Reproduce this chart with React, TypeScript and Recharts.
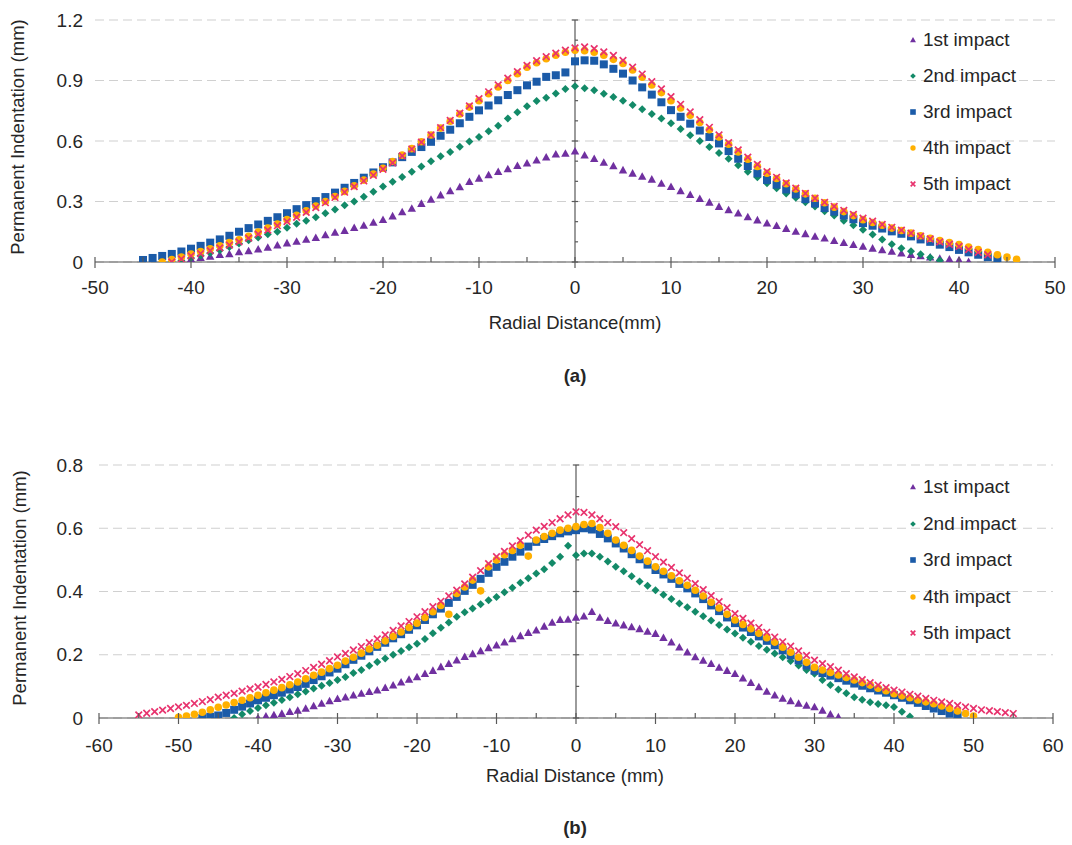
import React from 'react';
import { ScatterChart, Scatter, XAxis, YAxis, CartesianGrid, ReferenceLine } from 'recharts';

const FONT = '"Liberation Sans", Arial, sans-serif';
const TEXT = '#262626';
const AXIS = '#595959';
const GRID = '#D0D0D0';

const seriesNames = ['1st impact', '2nd impact', '3rd impact', '4th impact', '5th impact'];
const seriesColors = ['#7030A0', '#138A68', '#1B5BA8', '#FFB000', '#E8336E'];
const seriesShapes = ['triangle', 'diamond', 'square', 'circle', 'x'];

// ---------- Chart (a) ----------
const xTicksA = [-50, -40, -30, -20, -10, 0, 10, 20, 30, 40, 50];
const xMinorA = [-45, -35, -25, -15, -5, 5, 15, 25, 35, 45];
const yTicksA = [0, 0.3, 0.6, 0.9, 1.2];
const yMinorA = [0.1, 0.2, 0.4, 0.5, 0.7, 0.8, 1.0, 1.1];

const xA = [
  -45, -44, -43, -42, -41, -40, -39, -38, -37, -36,
  -35, -34, -33, -32, -31, -30, -29, -28, -27, -26,
  -25, -24, -23, -22, -21, -20, -19, -18, -17, -16,
  -15, -14, -13, -12, -11, -10, -9, -8, -7, -6,
  -5, -4, -3, -2, -1, 0, 1, 2, 3, 4,
  5, 6, 7, 8, 9, 10, 11, 12, 13, 14,
  15, 16, 17, 18, 19, 20, 21, 22, 23, 24,
  25, 26, 27, 28, 29, 30, 31, 32, 33, 34,
  35, 36, 37, 38, 39, 40, 41, 42, 43, 44,
  45, 46,
];

const impact1A = [
  null, null, null, null, 0.000, 0.015, 0.022, 0.028, 0.036, 0.040,
  0.050, 0.055, 0.064, 0.072, 0.083, 0.094, 0.102, 0.112, 0.121, 0.134,
  0.147, 0.156, 0.170, 0.181, 0.196, 0.210, 0.228, 0.248, 0.266, 0.290,
  0.310, 0.332, 0.352, 0.372, 0.398, 0.415, 0.432, 0.448, 0.462, 0.478,
  0.490, 0.505, 0.520, 0.535, 0.538, 0.550, 0.530, 0.512, 0.494, 0.476,
  0.456, 0.440, 0.424, 0.410, 0.390, 0.374, 0.352, 0.334, 0.314, 0.296,
  0.275, 0.258, 0.242, 0.224, 0.208, 0.193, 0.180, 0.166, 0.152, 0.140,
  0.127, 0.118, 0.106, 0.096, 0.086, 0.077, 0.068, 0.060, 0.052, 0.044,
  0.036, 0.030, 0.024, 0.018, 0.014, 0.010, 0.002, null, null, null,
  null, null,
];
const impact2A = [
  null, null, null, 0.000, 0.008, 0.020, 0.032, 0.045, 0.058, 0.074,
  0.092, 0.108, 0.122, 0.138, 0.150, 0.170, 0.190, 0.205, 0.222, 0.242,
  0.260, 0.282, 0.300, 0.324, 0.348, 0.374, 0.398, 0.422, 0.448, 0.474,
  0.500, 0.524, 0.546, 0.572, 0.598, 0.620, 0.648, 0.676, 0.712, 0.742,
  0.772, 0.798, 0.814, 0.836, 0.858, 0.872, 0.862, 0.852, 0.834, 0.818,
  0.800, 0.778, 0.758, 0.734, 0.712, 0.688, 0.660, 0.628, 0.600, 0.570,
  0.540, 0.512, 0.480, 0.448, 0.420, 0.390, 0.366, 0.340, 0.318, 0.296,
  0.275, 0.252, 0.230, 0.204, 0.182, 0.160, 0.136, 0.112, 0.088, 0.068,
  0.053, 0.038, 0.022, 0.008, null, null, null, null, null, null,
  null, null,
];
const impact3A = [
  0.010, 0.020, 0.030, 0.040, 0.052, 0.066, 0.080, 0.096, 0.112, 0.130,
  0.150, 0.168, 0.186, 0.204, 0.222, 0.242, 0.262, 0.282, 0.302, 0.322,
  0.344, 0.368, 0.392, 0.418, 0.444, 0.470, 0.494, 0.520, 0.546, 0.570,
  0.596, 0.626, 0.656, 0.688, 0.720, 0.752, 0.776, 0.802, 0.828, 0.852,
  0.876, 0.894, 0.918, 0.926, 0.940, 0.995, 1.000, 0.998, 0.980, 0.958,
  0.934, 0.900, 0.866, 0.830, 0.792, 0.753, 0.720, 0.686, 0.652, 0.620,
  0.588, 0.550, 0.512, 0.476, 0.440, 0.407, 0.384, 0.360, 0.336, 0.312,
  0.290, 0.268, 0.250, 0.230, 0.212, 0.193, 0.180, 0.166, 0.152, 0.140,
  0.127, 0.112, 0.100, 0.086, 0.074, 0.060, 0.048, 0.036, 0.024, 0.012,
  null, null,
];
const impact4A = [
  null, null, 0.000, 0.012, 0.025, 0.040, 0.052, 0.066, 0.080, 0.096,
  0.110, 0.128, 0.148, 0.168, 0.188, 0.210, 0.232, 0.254, 0.278, 0.300,
  0.325, 0.350, 0.378, 0.406, 0.436, 0.465, 0.498, 0.530, 0.562, 0.596,
  0.630, 0.664, 0.698, 0.734, 0.768, 0.800, 0.834, 0.868, 0.900, 0.934,
  0.966, 0.988, 1.008, 1.025, 1.040, 1.050, 1.048, 1.040, 1.025, 1.005,
  0.984, 0.952, 0.916, 0.878, 0.840, 0.800, 0.764, 0.728, 0.692, 0.656,
  0.620, 0.584, 0.546, 0.510, 0.474, 0.440, 0.414, 0.388, 0.362, 0.338,
  0.316, 0.294, 0.272, 0.250, 0.230, 0.210, 0.196, 0.182, 0.168, 0.156,
  0.143, 0.130, 0.118, 0.106, 0.096, 0.086, 0.074, 0.062, 0.048, 0.036,
  0.024, 0.014,
];
const impact5A = [
  null, null, null, 0.000, 0.015, 0.030, 0.042, 0.056, 0.070, 0.084,
  0.100, 0.118, 0.138, 0.158, 0.180, 0.200, 0.222, 0.246, 0.270, 0.294,
  0.320, 0.346, 0.374, 0.402, 0.430, 0.460, 0.492, 0.526, 0.560, 0.594,
  0.630, 0.666, 0.702, 0.738, 0.774, 0.810, 0.844, 0.878, 0.912, 0.944,
  0.975, 0.998, 1.018, 1.035, 1.050, 1.062, 1.066, 1.058, 1.042, 1.024,
  1.000, 0.966, 0.932, 0.894, 0.858, 0.820, 0.782, 0.744, 0.706, 0.668,
  0.630, 0.592, 0.556, 0.520, 0.484, 0.448, 0.420, 0.392, 0.366, 0.340,
  0.316, 0.296, 0.276, 0.256, 0.236, 0.217, 0.202, 0.186, 0.172, 0.158,
  0.143, 0.128, 0.114, 0.100, 0.088, 0.077, 0.062, 0.048, 0.036, null,
  null, null,
];

// ---------- Chart (b) ----------
const xTicksB = [-60, -50, -40, -30, -20, -10, 0, 10, 20, 30, 40, 50, 60];
const xMinorB = [-55, -45, -35, -25, -15, -5, 5, 15, 25, 35, 45, 55];
const yTicksB = [0, 0.2, 0.4, 0.6, 0.8];
const yMinorB = [0.1, 0.3, 0.5, 0.7];

const xB = [
  -55, -54, -53, -52, -51, -50, -49, -48, -47, -46,
  -45, -44, -43, -42, -41, -40, -39, -38, -37, -36,
  -35, -34, -33, -32, -31, -30, -29, -28, -27, -26,
  -25, -24, -23, -22, -21, -20, -19, -18, -17, -16,
  -15, -14, -13, -12, -11, -10, -9, -8, -7, -6,
  -5, -4, -3, -2, -1, 0, 1, 2, 3, 4,
  5, 6, 7, 8, 9, 10, 11, 12, 13, 14,
  15, 16, 17, 18, 19, 20, 21, 22, 23, 24,
  25, 26, 27, 28, 29, 30, 31, 32, 33, 34,
  35, 36, 37, 38, 39, 40, 41, 42, 43, 44,
  45, 46, 47, 48, 49, 50, 51, 52, 53, 54,
  55,
];

const impact1B = [
  null, null, null, null, null, null, null, null, null, null,
  null, null, null, null, null, 0.000, 0.006, 0.010, 0.014, 0.020,
  0.024, 0.030, 0.038, 0.046, 0.054, 0.061, 0.066, 0.072, 0.078, 0.083,
  0.088, 0.096, 0.104, 0.113, 0.122, 0.130, 0.140, 0.150, 0.162, 0.172,
  0.183, 0.194, 0.203, 0.212, 0.222, 0.230, 0.240, 0.250, 0.260, 0.270,
  0.278, 0.290, 0.302, 0.311, 0.312, 0.318, 0.322, 0.336, 0.318, 0.308,
  0.300, 0.294, 0.288, 0.282, 0.274, 0.267, 0.254, 0.240, 0.224, 0.208,
  0.193, 0.182, 0.172, 0.160, 0.150, 0.140, 0.126, 0.112, 0.098, 0.084,
  0.072, 0.062, 0.054, 0.046, 0.040, 0.035, 0.024, 0.012, 0.003, null,
  null, null, null, null, null, null, null, null, null, null,
  null, null, null, null, null, null, null, null, null, null,
  null,
];
const impact2B = [
  null, null, null, null, null, null, null, null, null, null,
  null, null, 0.000, 0.012, 0.022, 0.032, 0.040, 0.048, 0.057, 0.066,
  0.075, 0.084, 0.093, 0.102, 0.111, 0.120, 0.130, 0.142, 0.152, 0.165,
  0.177, 0.188, 0.200, 0.212, 0.224, 0.235, 0.250, 0.268, 0.285, 0.302,
  0.320, 0.334, 0.346, 0.360, 0.372, 0.383, 0.398, 0.412, 0.428, 0.442,
  0.457, 0.470, 0.490, 0.510, 0.545, 0.515, 0.520, 0.520, 0.510, 0.495,
  0.478, 0.464, 0.448, 0.432, 0.418, 0.404, 0.390, 0.376, 0.362, 0.350,
  0.336, 0.322, 0.308, 0.294, 0.280, 0.267, 0.254, 0.241, 0.228, 0.216,
  0.204, 0.192, 0.180, 0.166, 0.152, 0.140, 0.120, 0.104, 0.090, 0.078,
  0.066, 0.058, 0.050, 0.044, 0.040, 0.035, 0.020, 0.005, null, null,
  null, null, null, null, null, null, null, null, null, null,
  null,
];
const impact3B = [
  null, null, null, null, null, null, null, null, 0.000, 0.004,
  0.008, 0.016, 0.026, 0.036, 0.046, 0.056, 0.064, 0.072, 0.080, 0.090,
  0.098, 0.108, 0.120, 0.132, 0.144, 0.156, 0.170, 0.184, 0.197, 0.211,
  0.225, 0.238, 0.252, 0.265, 0.279, 0.293, 0.310, 0.328, 0.346, 0.364,
  0.383, 0.402, 0.421, 0.440, 0.459, 0.478, 0.494, 0.510, 0.526, 0.542,
  0.557, 0.566, 0.575, 0.584, 0.590, 0.594, 0.600, 0.596, 0.582, 0.568,
  0.552, 0.536, 0.518, 0.502, 0.485, 0.468, 0.454, 0.440, 0.424, 0.410,
  0.394, 0.376, 0.356, 0.338, 0.318, 0.300, 0.286, 0.272, 0.258, 0.244,
  0.230, 0.214, 0.198, 0.182, 0.166, 0.150, 0.142, 0.134, 0.126, 0.118,
  0.109, 0.102, 0.094, 0.087, 0.080, 0.072, 0.064, 0.056, 0.048, 0.038,
  0.030, 0.022, 0.014, 0.008, null, null, null, null, null, null,
  null,
];
const impact4B = [
  null, null, null, null, null, 0.002, 0.006, 0.012, 0.018, 0.026,
  0.034, 0.041, 0.049, 0.056, 0.064, 0.072, 0.080, 0.088, 0.096, 0.105,
  0.114, 0.124, 0.135, 0.145, 0.156, 0.167, 0.180, 0.192, 0.205, 0.218,
  0.230, 0.244, 0.258, 0.272, 0.286, 0.300, 0.318, 0.336, 0.356, 0.328,
  0.394, 0.414, 0.436, 0.402, 0.478, 0.500, 0.516, 0.530, 0.546, 0.512,
  0.563, 0.574, 0.584, 0.594, 0.600, 0.605, 0.612, 0.615, 0.602, 0.584,
  0.563, 0.546, 0.530, 0.512, 0.496, 0.478, 0.464, 0.450, 0.434, 0.420,
  0.404, 0.386, 0.366, 0.348, 0.328, 0.310, 0.296, 0.282, 0.268, 0.254,
  0.240, 0.224, 0.208, 0.192, 0.176, 0.160, 0.152, 0.144, 0.136, 0.128,
  0.120, 0.112, 0.104, 0.094, 0.086, 0.077, 0.070, 0.064, 0.057, 0.051,
  0.045, 0.038, 0.030, 0.022, 0.014, 0.006, null, null, null, null,
  null,
];
const impact5B = [
  0.010, 0.015, 0.020, 0.025, 0.030, 0.035, 0.040, 0.046, 0.052, 0.058,
  0.066, 0.072, 0.078, 0.085, 0.092, 0.098, 0.106, 0.114, 0.122, 0.131,
  0.140, 0.150, 0.160, 0.170, 0.181, 0.193, 0.204, 0.215, 0.226, 0.238,
  0.250, 0.263, 0.277, 0.291, 0.305, 0.320, 0.336, 0.352, 0.369, 0.386,
  0.404, 0.424, 0.445, 0.466, 0.488, 0.510, 0.527, 0.544, 0.561, 0.578,
  0.594, 0.606, 0.618, 0.630, 0.642, 0.652, 0.650, 0.642, 0.630, 0.618,
  0.605, 0.586, 0.567, 0.548, 0.529, 0.510, 0.493, 0.476, 0.459, 0.442,
  0.425, 0.406, 0.387, 0.368, 0.349, 0.330, 0.315, 0.300, 0.286, 0.271,
  0.256, 0.241, 0.227, 0.212, 0.198, 0.183, 0.172, 0.162, 0.151, 0.140,
  0.130, 0.121, 0.112, 0.104, 0.096, 0.088, 0.082, 0.075, 0.069, 0.062,
  0.056, 0.051, 0.046, 0.040, 0.035, 0.030, 0.026, 0.023, 0.020, 0.017,
  0.014,
];

type Pt = { x: number; y: number };
function buildPoints(xs: number[], ys: (number | null)[]): Pt[] {
  const out: Pt[] = [];
  xs.forEach((x, i) => {
    const v = ys[i];
    if (v !== null && v !== undefined) out.push({ x, y: v });
  });
  return out;
}

function Marker({ kind, color, cx, cy, k = 1 }: { kind: string; color: string; cx: number; cy: number; k?: number }) {
  if (cx == null || cy == null) return null;
  switch (kind) {
    case 'triangle': {
      const r = 4.2 * k;
      return <polygon points={`${cx},${cy - r} ${cx - r},${cy + r * 0.8} ${cx + r},${cy + r * 0.8}`} fill={color} />;
    }
    case 'diamond': {
      const r = 4.0 * k;
      return <polygon points={`${cx},${cy - r} ${cx + r},${cy} ${cx},${cy + r} ${cx - r},${cy}`} fill={color} />;
    }
    case 'square': {
      const r = 4.0 * k;
      return <rect x={cx - r} y={cy - r} width={2 * r} height={2 * r} fill={color} />;
    }
    case 'circle':
      return <circle cx={cx} cy={cy} r={3.8 * k} fill={color} />;
    default: {
      const r = 3.3 * k;
      return (
        <path
          d={`M${cx - r},${cy - r}L${cx + r},${cy + r}M${cx - r},${cy + r}L${cx + r},${cy - r}`}
          stroke={color}
          strokeWidth={1.7}
          fill="none"
        />
      );
    }
  }
}

const makeXTick = (majors: number[], labelDy: number) => (props: any) => {
  const { x, y, payload } = props;
  const major = majors.includes(payload.value);
  return (
    <g>
      <line x1={x} x2={x} y1={y - 5} y2={major ? y + 6 : y} stroke={AXIS} strokeWidth={1.2} />
      {major && (
        <text x={x} y={y + labelDy} textAnchor="middle" fontSize={19} fill={TEXT} fontFamily={FONT}>
          {payload.value}
        </text>
      )}
    </g>
  );
};

type PanelProps = {
  top: number;
  height: number;
  marginTop: number;
  marginRight: number;
  yAxisWidth: number;
  yTickMargin: number;
  xAxisHeight: number;
  xDomain: [number, number];
  xTicks: number[];
  xMinor: number[];
  yDomain: [number, number];
  yTicks: number[];
  yMinor: number[];
  tickHalf: number;
  labelDy: number;
  xs: number[];
  series: (number | null)[][];
};

function Panel(p: PanelProps) {
  const allXTicks = [...p.xTicks, ...p.xMinor].sort((a, b) => a - b);
  return (
    <div style={{ position: 'absolute', left: 0, top: p.top }}>
      <ScatterChart
        width={1072}
        height={p.height}
        margin={{ top: p.marginTop, right: p.marginRight, bottom: 0, left: 0 }}
      >
        <CartesianGrid vertical={false} stroke={GRID} strokeDasharray="9 5" strokeWidth={1.2} />
        <XAxis
          type="number"
          dataKey="x"
          domain={p.xDomain}
          ticks={allXTicks}
          interval={0}
          allowDataOverflow
          tickLine={false}
          tickSize={0}
          tickMargin={0}
          height={p.xAxisHeight}
          axisLine={{ stroke: AXIS, strokeWidth: 1.2 }}
          tick={makeXTick(p.xTicks, p.labelDy)}
        />
        <YAxis
          type="number"
          dataKey="y"
          domain={p.yDomain}
          ticks={p.yTicks}
          interval={0}
          allowDataOverflow
          axisLine={false}
          tickLine={false}
          tickSize={0}
          tickMargin={p.yTickMargin}
          width={p.yAxisWidth}
          tick={{ fontSize: 19, fill: TEXT, fontFamily: FONT }}
        />
        <ReferenceLine x={0} stroke={AXIS} strokeWidth={1.2} ifOverflow="visible" />
        {p.yTicks.map((v) => (
          <ReferenceLine
            key={`maj${v}`}
            segment={[{ x: -p.tickHalf, y: v }, { x: p.tickHalf, y: v }]}
            stroke={AXIS}
            strokeWidth={1.2}
            ifOverflow="visible"
          />
        ))}
        {p.yMinor.map((v) => (
          <ReferenceLine
            key={`min${v}`}
            segment={[{ x: 0, y: v }, { x: p.tickHalf, y: v }]}
            stroke={AXIS}
            strokeWidth={1.2}
            ifOverflow="visible"
          />
        ))}
        {p.series.map((ys, si) => (
          <Scatter
            key={seriesNames[si]}
            name={seriesNames[si]}
            data={buildPoints(p.xs, ys)}
            fill={seriesColors[si]}
            isAnimationActive={false}
            shape={(sp: any) => <Marker kind={seriesShapes[si]} color={seriesColors[si]} cx={sp.cx} cy={sp.cy} />}
          />
        ))}
      </ScatterChart>
    </div>
  );
}

function LegendBox({ left, top, step }: { left: number; top: number; step: number }) {
  return (
    <div style={{ position: 'absolute', left, top }}>
      {seriesNames.map((n, i) => (
        <div
          key={n}
          style={{
            position: 'absolute',
            left: 0,
            top: i * step,
            height: 36,
            display: 'flex',
            alignItems: 'center',
            whiteSpace: 'nowrap',
            fontFamily: FONT,
            fontSize: 19,
            color: TEXT,
          }}
        >
          <svg width={12} height={12} style={{ marginRight: 4 }}>
            <Marker kind={seriesShapes[i]} color={seriesColors[i]} cx={6} cy={6} k={0.7} />
          </svg>
          <span>{n}</span>
        </div>
      ))}
    </div>
  );
}

function CenterText({ cx, cy, text, bold = false, size = 18.5 }: { cx: number; cy: number; text: string; bold?: boolean; size?: number }) {
  return (
    <div
      style={{
        position: 'absolute',
        left: cx,
        top: cy,
        transform: 'translate(-50%, -50%)',
        whiteSpace: 'nowrap',
        fontFamily: FONT,
        fontSize: size,
        fontWeight: bold ? 700 : 400,
        color: TEXT,
      }}
    >
      {text}
    </div>
  );
}

function VText({ cx, cy, text }: { cx: number; cy: number; text: string }) {
  return (
    <div
      style={{
        position: 'absolute',
        left: cx,
        top: cy,
        transform: 'translate(-50%, -50%) rotate(-90deg)',
        whiteSpace: 'nowrap',
        fontFamily: FONT,
        fontSize: 18.5,
        color: TEXT,
      }}
    >
      {text}
    </div>
  );
}

export default function App() {
  return (
    <div style={{ position: 'absolute', left: 0, top: 0, width: 1072, height: 845, background: '#fff', overflow: 'hidden' }}>
      <Panel
        top={0}
        height={300}
        marginTop={20}
        marginRight={17}
        yAxisWidth={95}
        yTickMargin={12}
        xAxisHeight={38}
        xDomain={[-50, 50]}
        xTicks={xTicksA}
        xMinor={xMinorA}
        yDomain={[0, 1.2]}
        yTicks={yTicksA}
        yMinor={yMinorA}
        tickHalf={0.32}
        labelDy={32}
        xs={xA}
        series={[impact1A, impact2A, impact3A, impact4A, impact5A]}
      />
      <Panel
        top={440}
        height={320}
        marginTop={25}
        marginRight={19}
        yAxisWidth={99}
        yTickMargin={16}
        xAxisHeight={42}
        xDomain={[-60, 60]}
        xTicks={xTicksB}
        xMinor={xMinorB}
        yDomain={[0, 0.8]}
        yTicks={yTicksB}
        yMinor={yMinorB}
        tickHalf={0.4}
        labelDy={34}
        xs={xB}
        series={[impact1B, impact2B, impact3B, impact4B, impact5B]}
      />
      <LegendBox left={907} top={22} step={36} />
      <LegendBox left={907} top={469} step={36.5} />
      <VText cx={18} cy={137} text="Permanent Indentation (mm)" />
      <VText cx={20} cy={588} text="Permanent Indentation (mm)" />
      <CenterText cx={575} cy={323} text="Radial Distance(mm)" />
      <CenterText cx={575} cy={776} text="Radial Distance (mm)" />
      <CenterText cx={575} cy={376} text="(a)" bold />
      <CenterText cx={575} cy={828} text="(b)" bold />
    </div>
  );
}
